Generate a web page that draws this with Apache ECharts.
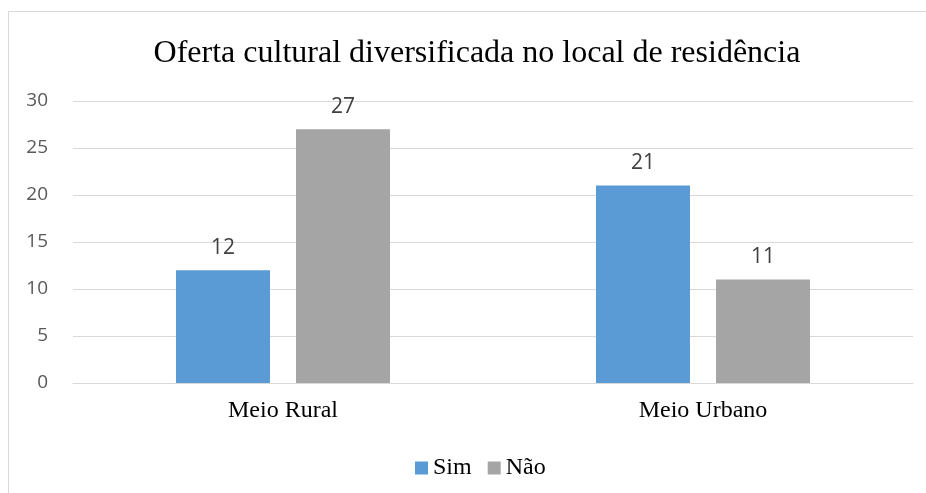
<!DOCTYPE html>
<html><head><meta charset="utf-8">
<script src="https://cdn.jsdelivr.net/npm/echarts@6/dist/echarts.min.js"></script>
<style>html,body{margin:0;padding:0;background:#fff}#c{width:926px;height:493px}</style>
</head><body><div id="c"></div>
<script>
const categories = ['Meio Rural', 'Meio Urbano'];
const simValues = [12, 21];
const naoValues = [27, 11];
const yTicks = [0, 5, 10, 15, 20, 25, 30];
const titleText = 'Oferta cultural diversificada no local de residência';

const chart = echarts.init(document.getElementById('c'), null, {renderer: 'canvas'});
const sansFont = '"Open Sans", "Liberation Sans", sans-serif';
const labelStyle = {show: true, position: 'top', distance: 12, color: '#404040', fontFamily: sansFont, fontSize: 21};
chart.setOption({
  animation: false,
  backgroundColor: '#fff',
  graphic: [{type: 'rect', shape: {x: 8.5, y: 11.5, width: 960, height: 520}, style: {fill: 'none', stroke: '#D9D9D9', lineWidth: 1}, z: -1}],
  title: {text: titleText, left: 472, textAlign: 'center', top: 33, textStyle: {fontFamily: '"Liberation Serif", serif', fontWeight: 'normal', fontSize: 32, color: '#000'}},
  legend: {data: ['Sim', 'Não'], left: 410, top: 451, itemWidth: 13, itemHeight: 13, itemGap: 16, icon: 'rect',
    textStyle: {fontFamily: '"Liberation Serif", serif', fontSize: 24, color: '#000'}},
  grid: {left: 73, right: 13, top: 101, bottom: 110, containLabel: false},
  xAxis: {type: 'category', data: categories, axisTick: {show: false},
    axisLine: {lineStyle: {color: '#D9D9D9'}},
    axisLabel: {fontFamily: '"Liberation Serif", serif', fontSize: 24, color: '#000', margin: 16}},
  yAxis: {type: 'value', min: yTicks[0], max: yTicks[yTicks.length-1], interval: 5,
    axisLine: {show: false}, axisTick: {show: false},
    splitLine: {lineStyle: {color: '#D9D9D9'}},
    axisLabel: {fontFamily: sansFont, fontSize: 19, color: '#595959', margin: 25}},
  series: [
    {name: 'Sim', type: 'bar', data: simValues, barWidth: 94, barGap: '27.7%', itemStyle: {color: '#5B9BD5'}, label: labelStyle},
    {name: 'Não', type: 'bar', data: naoValues, barWidth: 94, itemStyle: {color: '#A5A5A5'}, label: labelStyle}
  ]
});
</script></body></html>
